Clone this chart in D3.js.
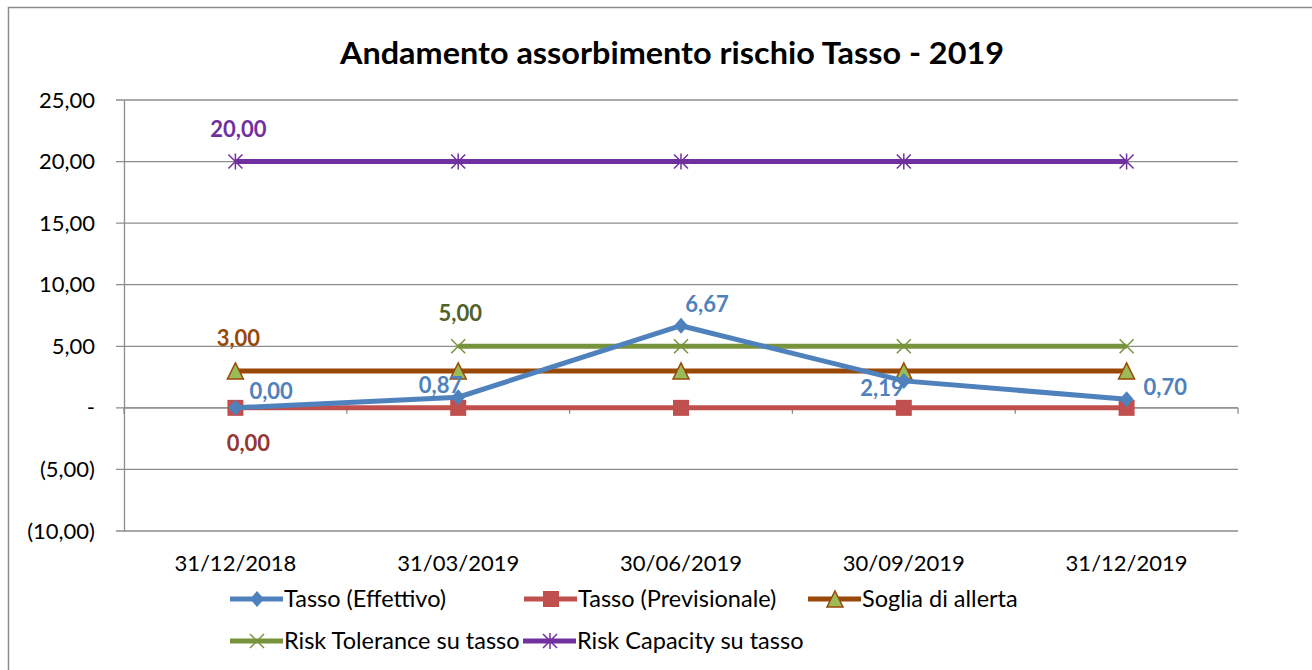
<!DOCTYPE html>
<html>
<head>
<meta charset="utf-8">
<script src="https://cdn.jsdelivr.net/npm/d3@7"></script>
<style>
  body { margin: 0; background: #fff; }
  svg { font-family: Lato, "Open Sans", sans-serif; }
</style>
</head>
<body>
<svg id="chart"></svg>
<script>
// dati
const dates = ["31/12/2018", "31/03/2019", "30/06/2019", "30/09/2019", "31/12/2019"];
const effettivo = [0, 0.87, 6.67, 2.19, 0.70];
const previsionale = [0, 0, 0, 0, 0];
const soglia = [3, 3, 3, 3, 3];
const tolerance = [null, 5, 5, 5, 5];
const capacity = [20, 20, 20, 20, 20];
const yTicks = [-10, -5, 0, 5, 10, 15, 20, 25];

const W = 1312, H = 670;
const margin = {top: 100, right: 74, left: 124};
const plotBottom = 531;

const svg = d3.select("#chart").attr("width", W).attr("height", H);

// cornice
svg.append("rect")
  .attr("x", 8.5).attr("y", 7.5)
  .attr("width", W + 20).attr("height", H + 20)
  .attr("fill", "none").attr("stroke", "#8c8c8c").attr("stroke-width", 1.5);

svg.append("text")
  .attr("x", 340).attr("y", 64)
  .style("font-size", "30px").style("font-weight", "bold")
  .attr("textLength", 664).attr("lengthAdjust", "spacingAndGlyphs")
  .text("Andamento assorbimento rischio Tasso - 2019");

const xscale = d3.scaleBand().domain(dates).range([margin.left, W - margin.right]);
const yscale = d3.scaleLinear().domain([-10, 25]).range([plotBottom, margin.top]);
const cx = d => xscale(d) + xscale.bandwidth() / 2;

const fmt = v => {
  if (v === 0) return "-";
  const s = Math.abs(v).toFixed(2).replace(".", ",");
  return v < 0 ? "(" + s + ")" : s;
};

// griglia
svg.append("g")
  .selectAll("line")
  .data(yTicks)
  .join("line")
  .attr("x1", margin.left - 8).attr("x2", W - margin.right)
  .attr("y1", d => yscale(d)).attr("y2", d => yscale(d))
  .attr("stroke", "#8c8c8c").attr("stroke-width", 1.3);

// asse y
const yaxis = d3.axisLeft(yscale).tickValues(yTicks).tickFormat(fmt).tickSize(0).tickPadding(29);
const yg = svg.append("g").attr("transform", `translate(${margin.left},0)`).call(yaxis);
yg.select(".domain").attr("stroke", "#8c8c8c").attr("stroke-width", 1.3);
yg.selectAll("text").style("font-size", "22px").attr("fill", "#000")
  .attr("font-family", "Lato, sans-serif");

// asse x sullo zero
const xaxis = d3.axisBottom(xscale).tickSize(0).tickFormat("");
const xg = svg.append("g").attr("transform", `translate(0,${yscale(0)})`).call(xaxis);
xg.select(".domain").remove();
xg.append("g").selectAll("line")
  .data(d3.range(dates.length + 1))
  .join("line")
  .attr("x1", i => margin.left + i * xscale.bandwidth())
  .attr("x2", i => margin.left + i * xscale.bandwidth())
  .attr("y1", 0).attr("y2", 6)
  .attr("stroke", "#8c8c8c").attr("stroke-width", 1.3);
svg.append("line")
  .attr("x1", margin.left).attr("x2", W - margin.right)
  .attr("y1", yscale(0)).attr("y2", yscale(0))
  .attr("stroke", "#8c8c8c").attr("stroke-width", 1.3);

// etichette categorie in basso
svg.append("g").selectAll("text")
  .data(dates)
  .join("text")
  .attr("x", d => cx(d)).attr("y", 571)
  .attr("text-anchor", "middle")
  .style("font-size", "22px")
  .text(d => d);

const line = d3.line()
  .defined(d => d.v !== null)
  .x(d => cx(d.k))
  .y(d => yscale(d.v));

const series = [
  {name: "Risk Capacity su tasso", vals: capacity, color: "#7030a0", marker: "star"},
  {name: "Risk Tolerance su tasso", vals: tolerance, color: "#77933c", marker: "x"},
  {name: "Soglia di allerta", vals: soglia, color: "#984807", marker: "tri"},
  {name: "Tasso (Previsionale)", vals: previsionale, color: "#c0504d", marker: "sq"},
  {name: "Tasso (Effettivo)", vals: effettivo, color: "#4f81bd", marker: "dia"}
];

function drawMarker(g, type, color) {
  if (type === "dia") {
    g.append("path").attr("d", "M0,-8L7,0L0,8L-7,0Z").attr("fill", color);
  } else if (type === "sq") {
    g.append("rect").attr("x", -8).attr("y", -8).attr("width", 16).attr("height", 16).attr("fill", color);
  } else if (type === "tri") {
    g.append("path").attr("d", "M0,-8L8,8L-8,8Z").attr("fill", "#9bbb59")
      .attr("stroke", "#984807").attr("stroke-width", 1.5);
  } else if (type === "x") {
    g.append("path").attr("d", "M-7,-7L7,7M-7,7L7,-7").attr("stroke", color).attr("stroke-width", 1.5);
  } else if (type === "star") {
    g.append("path").attr("d", "M-7,-7L7,7M-7,7L7,-7M0,-8L0,8").attr("stroke", color).attr("stroke-width", 1.5);
  }
}

series.forEach(s => {
  const pts = dates.map((k, i) => ({k: k, v: s.vals[i]}));
  svg.append("path")
    .attr("d", line(pts))
    .attr("fill", "none")
    .attr("stroke", s.color)
    .attr("stroke-width", 5);
  pts.filter(p => p.v !== null).forEach(p => {
    const g = svg.append("g").attr("transform", `translate(${cx(p.k)},${yscale(p.v)})`);
    drawMarker(g, s.marker, s.color);
  });
});

// etichette dati
const labels = [
  {k: 0, v: capacity[0], dx: 3, dy: -25, col: "#7030a0", anchor: "middle"},
  {k: 0, v: soglia[0], dx: 3, dy: -25, col: "#984807", anchor: "middle"},
  {k: 1, v: tolerance[1], dx: 2, dy: -25, col: "#4f6228", anchor: "middle"},
  {k: 0, v: previsionale[0], dx: 13, dy: 43, col: "#953735", anchor: "middle"},
  {k: 0, v: effettivo[0], dx: 14, dy: -9, col: "#4f81bd", anchor: "start"},
  {k: 1, v: effettivo[1], dx: 4, dy: -4, col: "#4f81bd", anchor: "end"},
  {k: 2, v: effettivo[2], dx: 26, dy: -14, col: "#4f81bd", anchor: "middle"},
  {k: 3, v: effettivo[3], dx: 0, dy: 15, col: "#4f81bd", anchor: "end"},
  {k: 4, v: effettivo[4], dx: 17, dy: -4, col: "#4f81bd", anchor: "start"}
];
svg.append("g").selectAll("text")
  .data(labels)
  .join("text")
  .attr("x", d => cx(dates[d.k]) + d.dx)
  .attr("y", d => yscale(d.v) + d.dy)
  .attr("text-anchor", d => d.anchor)
  .attr("fill", d => d.col)
  .style("font-size", "22px").style("font-weight", "bold")
  .text(d => d.v.toFixed(2).replace(".", ","));

// legenda
const legendItems = [
  {s: series[4], x: 230, y: 599},
  {s: series[3], x: 524, y: 599},
  {s: series[2], x: 808, y: 599},
  {s: series[1], x: 230, y: 641},
  {s: series[0], x: 523, y: 641}
];
const lg = svg.append("g").selectAll("g")
  .data(legendItems)
  .join("g")
  .attr("transform", d => `translate(${d.x},${d.y})`);
lg.append("line")
  .attr("x1", 0).attr("x2", 53).attr("y1", 0).attr("y2", 0)
  .attr("stroke", d => d.s.color).attr("stroke-width", 5);
lg.each(function(d) {
  const g = d3.select(this).append("g").attr("transform", "translate(27,0)");
  drawMarker(g, d.s.marker, d.s.color);
});
lg.append("text")
  .attr("x", 54).attr("y", 8)
  .style("font-size", "23.5px")
  .text(d => d.s.name);
</script>
</body>
</html>
